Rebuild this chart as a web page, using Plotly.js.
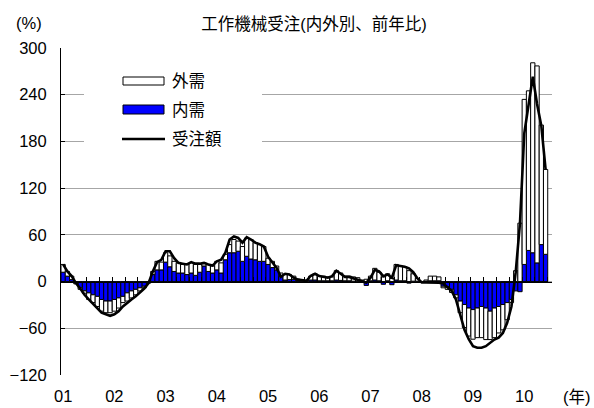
<!DOCTYPE html>
<html>
<head>
<meta charset="utf-8">
<script src="https://cdn.plot.ly/plotly-3.0.1.min.js"></script>
<style>html,body{margin:0;padding:0;background:#fff;}#chart{width:594px;height:408px;}</style>
</head>
<body>
<div id="chart"></div>
<script>
// ---- Data (monthly, Jan 2001 - Jun 2010), % y/y ----
const yearLabels = ['01','02','03','04','05','06','07','08','09','10'];
const seriesNames = ['外需','内需','受注額'];
const titleText = '工作機械受注(内外別、前年比)';

// 内需 (domestic contribution)
const domestic = [
  12, 7, 2.5, -2, -8, -12, -14.5, -17, -19, -23, -25, -25,
  -23, -21, -19, -14.5, -12, -10, -8, -6, -2, 9, 15, 15,
  25, 19, 13, 11, 11, 9, 11, 8, 12, 20, 13, 11,
  15, 11, 28, 37, 37, 39, 26, 32.5, 29, 28, 26, 26,
  22, 18, 15, 7, 2, 2.5, 3, 1.5, 0.5, 0.5, 2, 2,
  1, 1, 1, 1, 2, 1.5, 1, 1, 0.5, 0.5, -1, -5,
  1, 2, 1, -3.5, 1, -4, 2, 1, 1, -2, 0.5, 0.5,
  -0.5, 0.5, 1, 1, 1, -6, -7, -10, -17, -25, -29.5, -34,
  -36, -34, -32, -34, -38, -34, -32, -29.5, -27, -23, -12, -13,
  22, 40, 37, 24, 47.5, 35
];
// 外需 (external contribution)
const external = [
  10, 6, 4.5, -1, -2, -3, -8.5, -10, -13, -15, -15, -15,
  -15, -13, -8, -10.5, -9, -7, -4, -2, 0, 4, 11, 10,
  12, 14, 13, 13, 11, 13, 13, 14, 10, 4, 9, 9,
  11, 13, 7, 10.5, 17, 13, 19, 23.5, 25, 22, 21.5, 19,
  8, 8, 5, 4, 7, 6.5, 4, 1.5, 1, 1, 5, 8,
  6, 6, 5, 5, 12, 9.5, 6, 6, 5.5, 4.5, 2, 3,
  6, 15, 11, 6, 9, 4, 20, 19, 18, 14, 9.5, 3.5,
  -0.5, 1.5, 6, 6, 5, -2, -3, -4, -4, -15, -29.5, -36,
  -38, -38, -40, -40.5, -36.5, -38, -34, -32.5, -22, -4, 14, 75,
  212, 205, 244, 253, 153.5, 109
];
// 受注額 (total orders)
const total = [
  22, 13, 7, -2, -9, -17, -23, -29, -34, -40, -42, -44,
  -42, -38, -32, -27, -23, -19, -14.5, -9, -2, 13, 25, 28,
  39, 39, 30, 24, 23, 22, 25, 23, 23, 24, 22, 20.5,
  26, 28, 37, 54, 58, 56, 50, 57, 54, 50, 48, 45,
  32, 25, 17.5, 6, 10, 9, 5, 2.5, 1.5, 1, 7.5, 10,
  7, 6, 5, 7, 14, 10, 6, 6, 4.5, 3, 0.5, -1.5,
  5, 15, 13, 7, 9, 5, 21, 20, 19, 17, 12, 4,
  -1, -1, -1, -1.5, -1.5, -2.5, -7, -12, -23, -44, -62, -74,
  -83, -85, -85, -83, -79, -74.5, -72, -66, -53, -32, 12, 75,
  190, 225, 263, 228, 200, 144
];

// month categories (Jan 2001 - Jul 2010)
const months = [];
for (let y = 2001; y <= 2010; y++) {
  for (let m = 1; m <= 12; m++) {
    if (y === 2010 && m > 7) break;
    months.push(y + '/' + (m < 10 ? '0' + m : m));
  }
}
const xData = months.slice(0, total.length);
const yearTickVals = yearLabels.map(l => '20' + l + '/01');

// ---- Geometry helpers (plot area in pixels) ----
const W = 594, H = 408;
const M = {l: 61, r: 42, t: 48, b: 33};
const PW = W - M.l - M.r, PH = H - M.t - M.b;
const px = x => (x - M.l) / PW;
const py = y => (H - M.b - y) / PH;

const FONT = 'Liberation Sans, Arial, Noto Sans CJK JP, sans-serif';

const traces = [
  {type: 'bar', name: seriesNames[1], x: xData, y: domestic,
   marker: {color: '#0000FF', line: {color: '#000', width: 1}}, showlegend: false, hoverinfo: 'skip'},
  {type: 'bar', name: seriesNames[0], x: xData, y: external,
   marker: {color: '#FFFFFF', line: {color: '#000', width: 1}}, showlegend: false, hoverinfo: 'skip'},
  {type: 'scatter', mode: 'lines', name: seriesNames[2], x: xData, y: total,
   line: {color: '#000', width: 2.6}, showlegend: false, hoverinfo: 'skip'},
  {type: 'scatter', mode: 'lines', x: [], y: [], xaxis: 'x2', yaxis: 'y', showlegend: false, hoverinfo: 'skip'}
];

const legendRowsY = [81, 109.5, 139];
const layout = {
  width: W, height: H,
  margin: M,
  paper_bgcolor: '#fff', plot_bgcolor: '#fff',
  font: {family: FONT, size: 16.5, color: '#000'},
  barmode: 'relative', bargap: 0,
  showlegend: false,
  title: {text: titleText, x: 314 / W, xref: 'container', xanchor: 'center',
          y: 1 - 24 / H, yref: 'container', yanchor: 'middle',
          font: {family: FONT, size: 16.5, color: '#000'}},
  xaxis: {type: 'category', range: [-0.5, 114.5], categoryorder: 'array', categoryarray: months,
          tickmode: 'array', tickvals: yearTickVals, ticktext: yearLabels,
          ticks: '', showgrid: false, showline: false, zeroline: false,
          ticklabelstandoff: 9, tickfont: {size: 16.5}},
  xaxis2: {overlaying: 'x', anchor: 'free', position: 120 / 420, side: 'bottom', type: 'linear',
           range: [-0.5, 114.5], tick0: -0.5, dtick: 3, ticks: 'inside', ticklen: 5,
           tickcolor: '#000', tickwidth: 1, showticklabels: false, showgrid: false,
           showline: true, linecolor: '#000', linewidth: 1, zeroline: false},
  yaxis: {range: [-120, 300], tick0: 0, dtick: 60, showgrid: true, gridcolor: '#a6a6a6', gridwidth: 1,
          showline: true, linecolor: '#000', linewidth: 1, ticks: 'inside', ticklen: 4,
          tickcolor: '#000', zeroline: false, ticklabelstandoff: 10, tickfont: {size: 16.5}},
  shapes: [
    {type: 'rect', xref: 'paper', yref: 'paper', x0: px(84), x1: px(262), y0: py(170), y1: py(58),
     fillcolor: '#fff', line: {width: 0}, layer: 'above'},
    {type: 'rect', xref: 'paper', yref: 'paper', x0: px(123), x1: px(164), y0: py(85), y1: py(77),
     fillcolor: '#fff', line: {color: '#000', width: 1}, layer: 'above'},
    {type: 'rect', xref: 'paper', yref: 'paper', x0: px(123), x1: px(164), y0: py(114), y1: py(105),
     fillcolor: '#0000FF', line: {color: '#000', width: 1}, layer: 'above'},
    {type: 'line', xref: 'paper', yref: 'paper', x0: px(122), x1: px(165), y0: py(139), y1: py(139),
     line: {color: '#000', width: 2.6}, layer: 'above'}
  ],
  annotations: [
    {text: seriesNames[0], xref: 'paper', yref: 'paper', x: px(170), y: py(legendRowsY[0]),
     xanchor: 'left', yanchor: 'middle', showarrow: false, font: {size: 16.5}},
    {text: seriesNames[1], xref: 'paper', yref: 'paper', x: px(170), y: py(legendRowsY[1]),
     xanchor: 'left', yanchor: 'middle', showarrow: false, font: {size: 16.5}},
    {text: seriesNames[2], xref: 'paper', yref: 'paper', x: px(170), y: py(legendRowsY[2]),
     xanchor: 'left', yanchor: 'middle', showarrow: false, font: {size: 16.5}},
    {text: '(%)', xref: 'paper', yref: 'paper', x: px(29), y: py(23),
     xanchor: 'center', yanchor: 'middle', showarrow: false, font: {size: 16.5}},
    {text: '(年)', xref: 'paper', yref: 'paper', x: px(577), y: py(397),
     xanchor: 'center', yanchor: 'middle', showarrow: false, font: {size: 16.5}}
  ]
};

Plotly.newPlot('chart', traces, layout, {staticPlot: true, displayModeBar: false});
</script>
</body>
</html>
